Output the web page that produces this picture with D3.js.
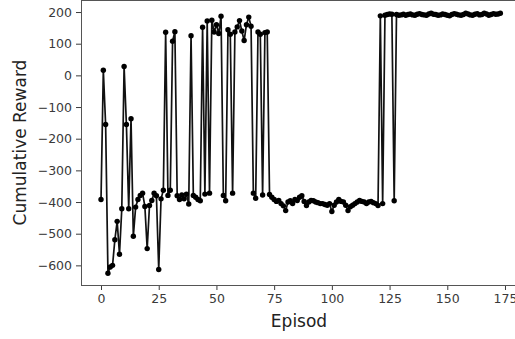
<!DOCTYPE html>
<html>
<head>
<meta charset="utf-8">
<script src="https://cdn.jsdelivr.net/npm/d3@7"></script>
<style>
  body { margin: 0; background: #fff; }
  svg { display: block; font-family: "DejaVu Sans", sans-serif; }
</style>
</head>
<body>
<div id="chart"></div>
<script>
// cumulative reward per episode
var rewards = [
  -392, 16, -155, -625, -605, -600, -519, -461, -565, -421,
  28, -155, -421, -137, -508, -416, -392, -379, -372, -414,
  -547, -411, -395, -372, -380, -613, -390, -363, 136, -379,
  -363, 108, 138, -380, -392, -378, -390, -375, -406, 125,
  -379, -385, -392, -396, 152, -375, 172, -372, 174, 137,
  160, 132, 187, -379, -396, 144, 130, -372, 137, 153,
  173, 140, 110, 160, 184, 155, -372, -388, 137, 130,
  -378, 135, 137, -376, -385, -392, -398, -395, -405, -412,
  -427, -400, -396, -405, -392, -395, -385, -380, -398, -411,
  -400, -395, -396, -400, -402, -405, -405, -408, -410, -405,
  -430, -410, -400, -392, -398, -400, -410, -427, -415, -410,
  -405, -400, -395, -398, -400, -405, -400, -398, -402, -405,
  -411, 188, -405, 190, 192, 194, 193, -396, 192, 190,
  191, 193, 190, 192, 194, 191, 190, 193, 195, 192,
  191, 190, 194, 196, 193, 192, 190, 191, 194, 192,
  190, 188, 192, 195, 193, 191, 190, 192, 196, 194,
  191, 190, 193, 195, 191, 192, 196, 194, 190, 192,
  195, 193, 194, 196
];
var xTicks = [0, 25, 50, 75, 100, 125, 150, 175];
var yTicks = [-600, -500, -400, -300, -200, -100, 0, 100, 200];

var width = 515, height = 339;
var margin = { left: 81, right: 520, top: 0, bottom: 285 };
var ink = "#3a3a3a";

var svg = d3.select("#chart").append("svg")
  .attr("width", width)
  .attr("height", height);

var x = d3.scaleLinear().domain([-8.67, 181.5]).range([margin.left, margin.right]);
var y = d3.scaleLinear().domain([-662, 238]).range([margin.bottom, margin.top]);

// axes
var xAxis = svg.append("g")
  .attr("transform", "translate(0," + margin.bottom + ")")
  .call(d3.axisBottom(x).tickValues(xTicks).tickSize(5).tickPadding(4).tickFormat(d3.format("d")));
var yAxis = svg.append("g")
  .attr("transform", "translate(" + margin.left + ",0)")
  .call(d3.axisLeft(y).tickValues(yTicks).tickSize(5).tickPadding(4).tickFormat(d3.format("d")));

[xAxis, yAxis].forEach(function (a) {
  a.select(".domain").remove();
  a.selectAll("line").attr("stroke", ink).attr("stroke-width", 1);
  a.selectAll("text").attr("fill", ink).style("font-size", "12.5px").style("font-family", "DejaVu Sans");
});

// frame
svg.append("rect")
  .attr("x", margin.left + 0.5).attr("y", margin.top + 0.5)
  .attr("width", margin.right - margin.left).attr("height", margin.bottom - margin.top)
  .attr("fill", "none").attr("stroke", "#555").attr("stroke-width", 1);

// line and markers
var line = d3.line()
  .x(function (d, i) { return x(i); })
  .y(function (d) { return y(d); });

svg.append("path")
  .datum(rewards)
  .attr("d", line)
  .attr("fill", "none")
  .attr("stroke", "#111")
  .attr("stroke-width", 1.7)
  .attr("stroke-linejoin", "round");

svg.append("g").selectAll("circle")
  .data(rewards)
  .enter().append("circle")
  .attr("cx", function (d, i) { return x(i); })
  .attr("cy", function (d) { return y(d); })
  .attr("r", 2.7)
  .attr("fill", "#000");

// labels
svg.append("text")
  .attr("x", (margin.left + 515) / 2 + 1)
  .attr("y", 327)
  .attr("text-anchor", "middle")
  .attr("fill", "#222")
  .style("font-size", "17px")
  .text("Episod");

svg.append("text")
  .attr("transform", "translate(26," + (margin.bottom / 2) + ") rotate(-90)")
  .attr("text-anchor", "middle")
  .attr("fill", "#222")
  .style("font-size", "17px")
  .text("Cumulative Reward");
</script>
</body>
</html>
